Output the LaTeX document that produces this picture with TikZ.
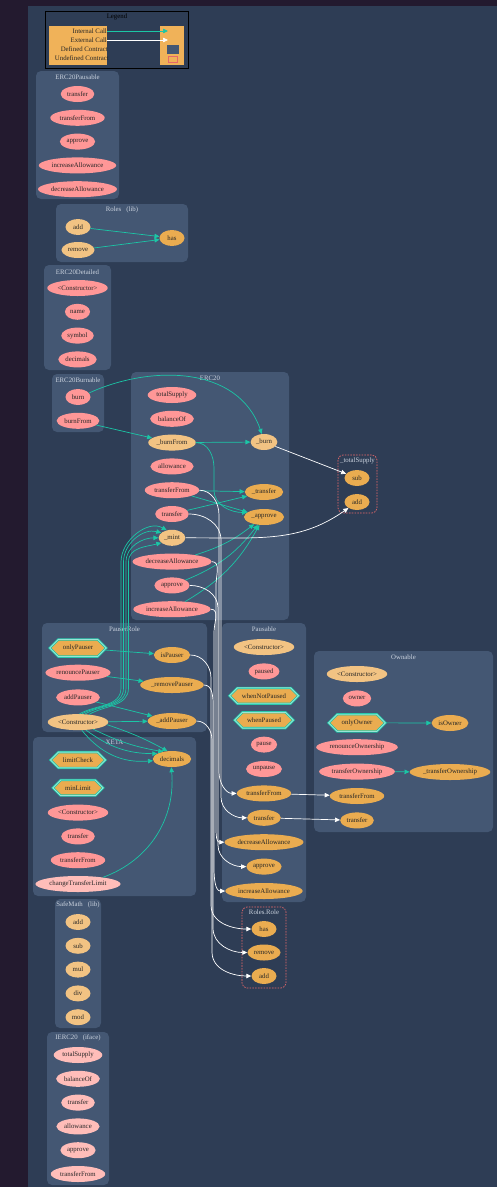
\documentclass[tikz,border=0pt]{standalone}
\usepackage{fontspec}
\setmainfont{Liberation Serif}
\usetikzlibrary{arrows.meta,shapes.geometric,shapes.misc,positioning}

\definecolor{outerbg}{HTML}{231A2F}
\definecolor{canvasbg}{HTML}{2E3D55}
\definecolor{clusterbg}{HTML}{445773}
\definecolor{pubcol}{HTML}{FF9797}
\definecolor{intcol}{HTML}{F2C383}
\definecolor{extcol}{HTML}{EAAC50}
\definecolor{ifacecol}{HTML}{FFBDB9}
\definecolor{callcol}{HTML}{1BC6A6}
\definecolor{titlecol}{HTML}{CBD3DF}
\definecolor{undefcol}{HTML}{E5686B}
\definecolor{legendcol}{HTML}{F0B259}

\tikzset{%
  >={Triangle[length=5pt,width=4.5pt]},
  % Specifications for style of nodes:
          base/.style = {ellipse, minimum width=25pt, minimum height=16pt,
                         inner xsep=1.5pt, inner ysep=0pt, text=black!85,
                         font=\fontsize{6.8}{8}\selectfont},
         pubfn/.style = {base, fill=pubcol},
         intfn/.style = {base, fill=intcol},
         extfn/.style = {base, fill=extcol},
       ifacefn/.style = {base, fill=ifacecol},
        modbox/.style = {base, chamfered rectangle, chamfered rectangle xsep=8pt,
                         chamfered rectangle ysep=4pt,
                         inner xsep=8.5pt, inner ysep=1.5pt, minimum height=14pt,
                         fill=extcol, draw=callcol, double=callcol!45!white,
                         double distance=0.9pt, line width=0.7pt},
  % clusters and their titles
       cluster/.style = {fill=clusterbg, rounded corners=5pt},
      undefbox/.style = {draw=undefcol, dash pattern=on 1.6pt off 1.2pt,
                         line width=0.7pt, rounded corners=5pt},
  clustertitle/.style = {text=titlecol, inner sep=0pt,
                         font=\fontsize{6.8}{8}\selectfont},
     legendtxt/.style = {anchor=east, inner sep=0pt, text=black!85,
                         font=\fontsize{6.8}{8}\selectfont},
  % calls
       intcall/.style = {->, draw=callcol, line width=0.7pt},
       extcall/.style = {->, draw=white, line width=0.7pt},
}

\begin{document}
\begin{tikzpicture}[x=1pt, y=-1pt, node distance=23.8pt]
  \useasboundingbox (0,0) rectangle (497,1187);
  \fill[outerbg] (0,0) rectangle (497,1187);
  \fill[canvasbg] (28,6) rectangle (497,1187);

  % Legend
  \draw[black, line width=1pt] (45,11) rectangle (188,68);
  \fill[legendcol] (49,26) rectangle (107,65);
  \fill[legendcol] (160,26) rectangle (184,65);
  \node[clustertitle, text=black] (lgTitle) at (117,17) {Legend};
  \node[legendtxt] (lgInternal) at (107,31) {Internal Call};
  \node[legendtxt] (lgExternal) at (107,40) {External Call};
  \node[legendtxt] (lgDefined) at (108,49) {Defined Contract};
  \node[legendtxt] (lgUndefined) at (109,58) {Undefined Contract};
  \coordinate (lgIntEnd) at (168,31);
  \coordinate (lgExtEnd) at (168,40);
  \fill[clusterbg] (167,45) rectangle (179,54);
  \draw[undefcol, line width=0.8pt] (168,56) rectangle (177,62);

  % Clusters
  \fill[cluster] (36,71) rectangle (119,199);
  \node[clustertitle] (tPausable20) at (77.5,77) {ERC20Pausable};
  \fill[cluster] (56,204) rectangle (188,262);
  \node[clustertitle] (tRoles) at (122,210) {Roles\ \ \ (lib)};
  \fill[cluster] (44,265) rectangle (111,370);
  \node[clustertitle] (tDetailed) at (77.5,272) {ERC20Detailed};
  \fill[cluster] (52,374) rectangle (104,432);
  \node[clustertitle] (tBurnable) at (78,380) {ERC20Burnable};
  \fill[cluster] (131,372) rectangle (289,620);
  \node[clustertitle] (tErc20) at (210,378) {ERC20};
  \draw[undefbox] (338,455) rectangle (377,513);
  \node[clustertitle] (tSupply) at (357.5,461) {\_totalSupply};
  \fill[cluster] (42,623) rectangle (207,732);
  \node[clustertitle] (tPauser) at (124.5,629) {PauserRole};
  \fill[cluster] (33,737) rectangle (196,896);
  \node[clustertitle] (tXeta) at (114.5,742) {XETA};
  \fill[cluster] (222,623) rectangle (306,902);
  \node[clustertitle] (tPausable) at (264,629) {Pausable};
  \fill[cluster] (314,651) rectangle (493,832);
  \node[clustertitle] (tOwnable) at (403.5,657) {Ownable};
  \draw[undefbox] (242,907) rectangle (286,988);
  \node[clustertitle] (tRole) at (264,912) {Roles.Role};
  \fill[cluster] (55,899) rectangle (101,1028);
  \node[clustertitle] (tSafeMath) at (78,905) {SafeMath\ \ \ (lib)};
  \fill[cluster] (47,1032) rectangle (109,1185);
  \node[clustertitle] (tIerc) at (78,1038) {IERC20\ \ \ (iface)};

  % ERC20Pausable
  \node[pubfn] (epTransfer) at (77.5,94) {transfer};
  \node[pubfn, below of=epTransfer] (epTransferFrom) {transferFrom};
  \node[pubfn, below of=epTransferFrom] (epApprove) {approve};
  \node[pubfn, below of=epApprove] (epIncrease) {increaseAllowance};
  \node[pubfn, below of=epIncrease] (epDecrease) {decreaseAllowance};

  % Roles
  \node[intfn] (rAdd) at (78,227) {add};
  \node[intfn, below of=rAdd, yshift=0.8pt] (rRemove) {remove};
  \node[extfn] (rHas) at (172,238) {has};

  % ERC20Detailed
  \node[pubfn] (dConstructor) at (77.5,288) {<Constructor>};
  \node[pubfn, below of=dConstructor] (dName) {name};
  \node[pubfn, below of=dName] (dSymbol) {symbol};
  \node[pubfn, below of=dSymbol] (dDecimals) {decimals};

  % ERC20Burnable
  \node[pubfn] (bBurn) at (78,397) {burn};
  \node[pubfn, below of=bBurn] (bBurnFrom) {burnFrom};

  % ERC20
  \node[pubfn] (eTotalSupply) at (172,395) {totalSupply};
  \node[pubfn, below of=eTotalSupply] (eBalanceOf) {balanceOf};
  \node[intfn, below of=eBalanceOf] (eBurnFrom) {\_burnFrom};
  \node[pubfn, below of=eBurnFrom] (eAllowance) {allowance};
  \node[pubfn, below of=eAllowance] (eTransferFrom) {transferFrom};
  \node[pubfn, below of=eTransferFrom] (eTransfer) {transfer};
  \node[intfn, below of=eTransfer] (eMint) {\_mint};
  \node[pubfn, below of=eMint] (eDecrease) {decreaseAllowance};
  \node[pubfn, below of=eDecrease] (eApprove) {approve};
  \node[pubfn, below of=eApprove] (eIncrease) {increaseAllowance};
  \node[intfn] (eBurnU) at (264,442) {\_burn};
  \node[extfn] (eTransferU) at (264,492) {\_transfer};
  \node[extfn] (eApproveU) at (264,517) {\_approve};

  % _totalSupply
  \node[extfn] (tsSub) at (357,478) {sub};
  \node[extfn] (tsAdd) at (357,502) {add};

  % PauserRole
  \begin{scope}[node distance=24.7pt]
  \node[modbox] (pOnlyPauser) at (78,648) {onlyPauser};
  \node[pubfn, below of=pOnlyPauser] (pRenounce) {renouncePauser};
  \node[pubfn, below of=pRenounce] (pAddPauser) {addPauser};
  \node[intfn, below of=pAddPauser] (pConstructor) {<Constructor>};
  \end{scope}
  \node[extfn] (pIsPauser) at (172,655) {isPauser};
  \node[extfn] (pRemoveU) at (172,685) {\_removePauser};
  \node[extfn] (pAddU) at (172,721) {\_addPauser};

  % XETA
  \node[modbox] (xLimitCheck) at (78,760) {limitCheck};
  \node[modbox, below of=xLimitCheck, yshift=-4pt] (xMinLimit) {minLimit};
  \node[pubfn, below of=xMinLimit, yshift=-1pt] (xConstructor) {<Constructor>};
  \node[pubfn, below of=xConstructor] (xTransfer) {transfer};
  \node[pubfn, below of=xTransfer] (xTransferFrom) {transferFrom};
  \node[ifacefn, below of=xTransferFrom] (xChange) {changeTransferLimit};
  \node[extfn] (xDecimals) at (172,759) {decimals};

  % Pausable and Ownable
  \begin{scope}[node distance=24.4pt]
  \node[intfn] (paConstructor) at (264,647) {<Constructor>};
  \node[pubfn, below of=paConstructor] (paPaused) {paused};
  \node[modbox, below of=paPaused] (paWhenNot) {whenNotPaused};
  \node[modbox, below of=paWhenNot] (paWhen) {whenPaused};
  \node[pubfn, below of=paWhen] (paPause) {pause};
  \node[pubfn, below of=paPause] (paUnpause) {unpause};
  \node[extfn, below of=paUnpause] (paTransferFrom) {transferFrom};
  \node[extfn, below of=paTransferFrom] (paTransfer) {transfer};
  \node[extfn, below of=paTransfer] (paDecrease) {decreaseAllowance};
  \node[extfn, below of=paDecrease] (paApprove) {approve};
  \node[extfn, below of=paApprove] (paIncrease) {increaseAllowance};

  \node[intfn] (oConstructor) at (357,674) {<Constructor>};
  \node[pubfn, below of=oConstructor] (oOwner) {owner};
  \node[modbox, below of=oOwner] (oOnlyOwner) {onlyOwner};
  \node[pubfn, below of=oOnlyOwner] (oRenounce) {renounceOwnership};
  \node[pubfn, below of=oRenounce] (oTransferOwnership) {transferOwnership};
  \node[extfn, below of=oTransferOwnership] (oTransferFrom) {transferFrom};
  \node[extfn, below of=oTransferFrom] (oTransfer) {transfer};
  \end{scope}
  \node[extfn] (oIsOwner) at (450,723) {isOwner};
  \node[extfn] (oTransferOwnershipU) at (450,772) {\_transferOwnership};

  % Roles.Role
  \node[extfn] (rrHas) at (264,929) {has};
  \node[extfn, below of=rrHas, yshift=0.3pt] (rrRemove) {remove};
  \node[extfn, below of=rrRemove, yshift=0.3pt] (rrAdd) {add};

  % SafeMath
  \node[intfn] (sAdd) at (78,922) {add};
  \node[intfn, below of=sAdd] (sSub) {sub};
  \node[intfn, below of=sSub] (sMul) {mul};
  \node[intfn, below of=sMul] (sDiv) {div};
  \node[intfn, below of=sDiv] (sMod) {mod};

  % IERC20
  \node[ifacefn] (iTotalSupply) at (78,1055) {totalSupply};
  \node[ifacefn, below of=iTotalSupply] (iBalanceOf) {balanceOf};
  \node[ifacefn, below of=iBalanceOf] (iTransfer) {transfer};
  \node[ifacefn, below of=iTransfer] (iAllowance) {allowance};
  \node[ifacefn, below of=iAllowance] (iApprove) {approve};
  \node[ifacefn, below of=iApprove] (iTransferFrom) {transferFrom};

  % Internal calls
  \draw[intcall] (lgInternal.east) -- (lgIntEnd);
  \draw[intcall] (rAdd) -- (rHas);
  \draw[intcall] (rRemove) -- (rHas);
  \draw[intcall] (bBurn.20) .. controls (150,365) and (238,365) .. (eBurnU.105);
  \draw[intcall] (bBurnFrom) -- (eBurnFrom);
  \draw[intcall] (eBurnFrom) -- (eBurnU);
  \draw[intcall] (eBurnFrom.east) to[out=0,in=90] (214,468) -- (214,490)
                 to[out=-90,in=180] (eApproveU.165);
  \draw[intcall] (eTransferFrom) -- (eTransferU);
  \draw[intcall] (eTransferFrom) -- (eApproveU);
  \draw[intcall] (eTransfer) -- (eTransferU);
  \draw[intcall] (eDecrease) to[bend right=10] (eApproveU);
  \draw[intcall] (eApprove) to[bend right=15] (eApproveU);
  \draw[intcall] (eIncrease) to[bend right=15] (eApproveU);
  \draw[intcall] (pOnlyPauser) -- (pIsPauser);
  \draw[intcall] (pRenounce) -- (pRemoveU);
  \draw[intcall] (pAddPauser) -- (pAddU);
  \draw[intcall] (pConstructor) -- (pAddU);
  \foreach \bx/\sa/\ea/\ia in {121/80/125/150, 123.5/65/155/165,
                               126/50/180/180, 128.5/35/205/195}
    \draw[intcall] (pConstructor.\sa) to[out=30,in=-90] (\bx,688) -- (\bx,562)
                   to[out=90,in=\ia] (eMint.\ea);
  \foreach \sa/\ea/\bend in {-5/120/-5, -25/140/8, -45/160/18, -65/185/28}
    \draw[intcall] (pConstructor.\sa) to[bend right=\bend] (xDecimals.\ea);
  \draw[intcall] (xChange.15) to[out=20,in=-85] (xDecimals.-95);
  \draw[intcall] (oOnlyOwner) -- (oIsOwner);
  \draw[intcall] (oTransferOwnership) -- (oTransferOwnershipU);

  % External calls
  \draw[extcall] (lgExternal.east) -- (lgExtEnd);
  \draw[extcall] (eBurnU) -- (tsSub);
  \draw[extcall] (eMint.east) -- (238,538) to[out=0,in=-145] (tsAdd.-145);
  \draw[extcall] (paTransferFrom) -- (oTransferFrom);
  \draw[extcall] (paTransfer) -- (oTransfer);
  \foreach \src/\dst/\bx/\ya/\yb in {eTransferFrom/paTransferFrom/219/515/772,
      eTransfer/paTransfer/221/540/797, eDecrease/paDecrease/216/585/821,
      eApprove/paApprove/218/608/845, eIncrease/paIncrease/214/632/868,
      pIsPauser/rrHas/211/678/905, pRemoveU/rrRemove/213/706/928,
      pAddU/rrAdd/212/740/952}
    \draw[extcall] (\src.east) to[out=0,in=90] (\bx,\ya) -- (\bx,\yb)
                   to[out=-90,in=180] (\dst.west);
\end{tikzpicture}
\end{document}
